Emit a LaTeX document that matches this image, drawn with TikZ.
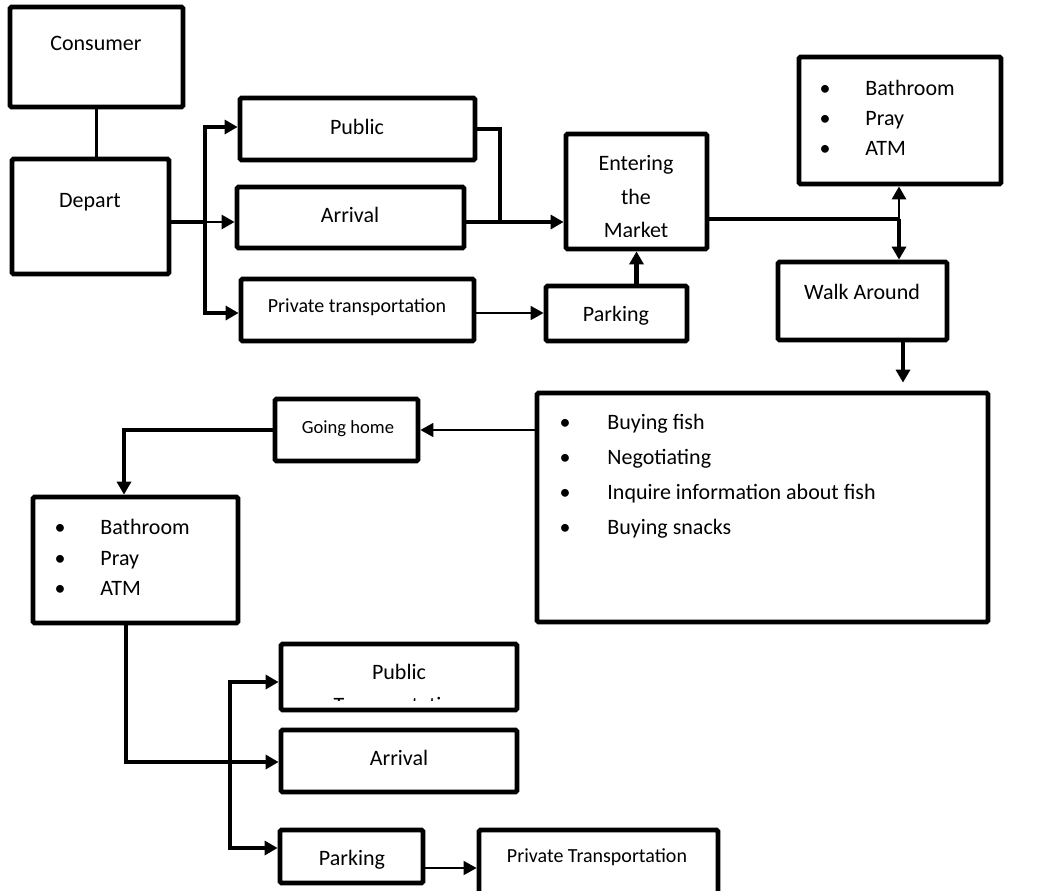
\documentclass[tikz,border=0pt]{standalone}
\usepackage{fontspec}
\setmainfont{Carlito}
\usetikzlibrary{arrows.meta,fit}
\begin{document}
\begin{tikzpicture}[x=0.5pt,y=-0.5pt,
 box/.style={draw,line width=2.4pt,rounded corners=0.8pt,inner sep=0pt},
 txt/.style={inner sep=0pt,text height=9pt,text depth=1.5pt,font=\fontsize{11}{13}\selectfont},
 small/.style={txt,font=\fontsize{10}{12}\selectfont},
 tiny/.style={txt,font=\fontsize{9.3}{11}\selectfont},
 thk/.style={line width=2.3pt},
 med/.style={line width=1.4pt},
 thn/.style={line width=0.85pt},
 arr/.style={-{Triangle[length=6.5pt,width=7pt]}}
]
\useasboundingbox (0,0) rectangle (1048,890);
\clip (0,0) rectangle (1048,890);

% boxes
\node[box,fit={(10,7) (183,107)}] (consumer) {};
\node[box,fit={(12,159) (169,274)}] (depart) {};
\node[box,fit={(240,98) (475,160)}] (public) {};
\node[box,fit={(237,187) (464,248)}] (arrival) {};
\node[box,fit={(241,279) (474,341)}] (privt) {};
\node[box,fit={(566,134) (707,249)}] (entering) {};
\node[box,fit={(546,286) (687,341)}] (parking) {};
\node[box,fit={(799,57) (1001,184)}] (bath1) {};
\node[box,fit={(778,262) (947,340)}] (walk) {};
\node[box,fit={(537,393) (988,622)}] (main) {};
\node[box,fit={(275,399) (418,461)}] (gohome) {};
\node[box,fit={(33,497) (238,623)}] (bath2) {};
\node[box,fit={(281,644) (517,710)}] (public2) {};
\node[box,fit={(281,730) (517,792)}] (arrival2) {};
\node[box,fit={(280,830) (423,883)}] (parking2) {};
\node[box,fit={(479,830) (718,900)}] (privt2) {};

% texts
\node[txt] (tconsumer) at (96,43) {Consumer};
\node[txt] (tdepart) at (90,200) {Depart};
\node[txt] (tpublic) at (357,127) {Public};
\node[txt] (tarrival) at (350,215) {Arrival};
\node[small] (tprivt) at (357,305) {Private transportation};
\node[txt] (tent1) at (636,163) {Entering};
\node[txt] (tent2) at (636,197) {the};
\begin{scope}
\clip (570,140) rectangle (703,236);
\node[txt] (tent3) at (636,230) {Market};
\end{scope}
\node[txt] (tparking) at (616,314) {Parking};
\node[txt] (twalk) at (862,292) {Walk Around};
\node[tiny] (tgohome) at (348,426) {Going home};
\node[txt] (tpublic2) at (399,672) {Public};
\begin{scope}
\clip (285,650) rectangle (513,700);
\node[txt] (tpublic2b) at (399,705) {Transportation};
\end{scope}
\node[txt] (tarrival2) at (399,758) {Arrival};
\node[txt] (tparking2) at (352,858) {Parking};
\node[small] (tprivt2) at (597,855) {Private Transportation};

% lists
\foreach \t [count=\i from 0] in {Bathroom,Pray,ATM} {
  \node[txt] (bda\i) at (825,{88+30*\i}) {\textbullet};
  \node[txt,anchor=west] (bta\i) at (865,{88+30*\i}) {\t};
  \node[txt] (bdb\i) at (60,{527+30.5*\i}) {\textbullet};
  \node[txt,anchor=west] (btb\i) at (100,{527+30.5*\i}) {\t};
}
\foreach \t [count=\i from 0] in {Buying fish,Negotiating,Inquire information about fish,Buying snacks} {
  \node[txt] (md\i) at (565,{422+35*\i}) {\textbullet};
  \node[txt,anchor=west] (mt\i) at (607,{422+35*\i}) {\t};
}

% connectors
\draw[med] (consumer.south) -- (consumer.south |- depart.north);
\coordinate (j1) at (205,222);
\coordinate (ta) at (205,127);
\coordinate (tb) at (205,313);
\draw[thk] (depart.east |- j1) -- (j1);
\draw[thk,arr] (j1) -- (ta) -- (public.west |- ta);
\draw[med,arr] (j1) -- (arrival.west |- j1);
\draw[thk,arr] (j1) -- (tb) -- (privt.west |- tb);
\coordinate (j2) at (500,222);
\draw[thk] (public.east) -| (j2);
\draw[thk,arr] (arrival.east |- j2) -- (entering.west |- j2);
\draw[thn,arr] (privt.east |- tb) -- (parking.west |- tb);
\draw[thk,arr] (entering.south |- parking.north) -- (entering.south);
\coordinate (j3) at (899,219);
\draw[thk] (entering.east |- j3) -- (j3);
\draw[thk,arr] (j3) -- (walk.north -| j3);
\draw[med,arr] (j3) -- (bath1.south -| j3);
\coordinate (w1) at (903,0);
\draw[thk,arr,shorten >=4pt] (walk.south -| w1) -- (main.north -| w1);
\draw[thn,arr] (main.west |- gohome.east) -- (gohome.east);
\coordinate (k1) at (124,0);
\draw[thk,arr] (gohome.west) -| (bath2.north -| k1);
\coordinate (k2) at (126,762);
\draw[thk,arr] (bath2.south -| k2) |- (arrival2.west |- k2);
\coordinate (j5) at (230,762);
\coordinate (t2a) at (230,682);
\coordinate (t2b) at (230,848);
\draw[thk,arr] (j5) -- (t2a) -- (public2.west |- t2a);
\draw[thk,arr] (j5) -- (t2b) -- (parking2.west |- t2b);
\coordinate (p2) at (0,868);
\draw[thn,arr] (parking2.east |- p2) -- (privt2.west |- p2);
\end{tikzpicture}
\end{document}
